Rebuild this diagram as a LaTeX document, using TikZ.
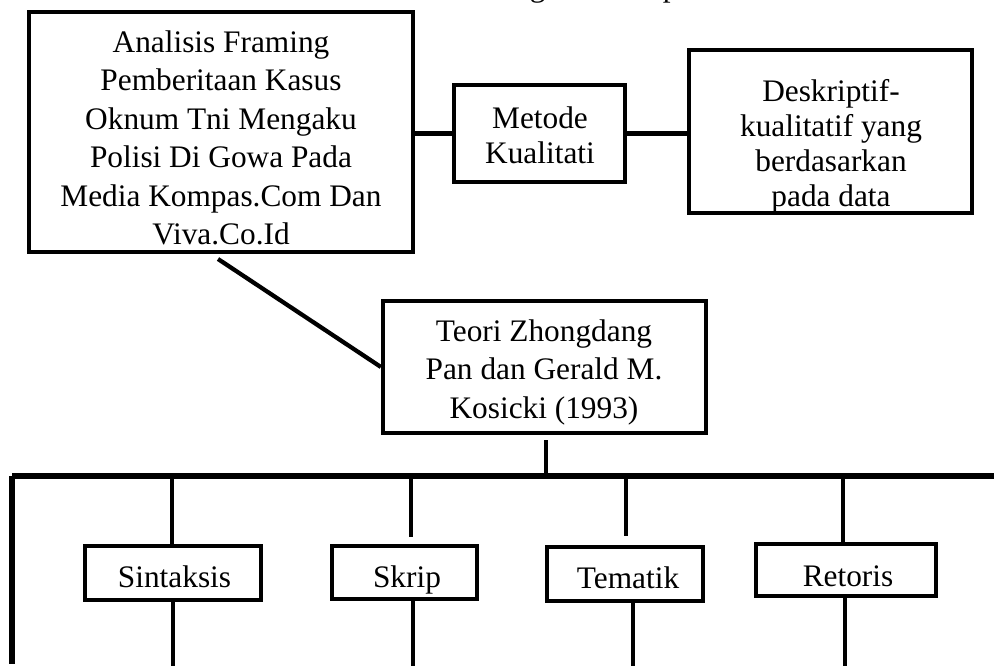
\documentclass[tikz,border=0pt]{standalone}
\usepackage{fontspec}
\setmainfont{Liberation Serif}
\begin{document}
\begin{tikzpicture}[x=0.75pt,y=-0.75pt,
  box/.style={draw, line width=3.4pt, inner sep=0pt},
  txt/.style={inner sep=0pt, align=center, font=\fontsize{23.5}{28.9}\selectfont},
  txtb/.style={inner sep=0pt, align=center, font=\fontsize{23.5}{26.3}\selectfont},
  wire/.style={line width=3.2pt},
  bus/.style={line width=3.8pt}]
\useasboundingbox (0,0) rectangle (994,666);
\begin{scope}
\clip (0,0) rectangle (994,666);
\node[txt, anchor=base west] (cap) at (453,-3) {Kerangka Konseptual};
\end{scope}
% boxes
\node[box, minimum width=288pt, minimum height=180pt] (a1) at (221,132) {};
\node[txt] (a1t) at (221,138) {Analisis Framing\\Pemberitaan Kasus\\Oknum Tni Mengaku\\Polisi Di Gowa Pada\\Media Kompas.Com Dan\\Viva.Co.Id};
\node[box, minimum width=128pt, minimum height=73pt] (m) at (539.5,133.5) {};
\node[txtb] (mt) at (540,135) {Metode\\Kualitati};
\node[box, minimum width=212pt, minimum height=122pt] (d) at (830.5,131.5) {};
\node[txtb] (dt) at (831,146) {Deskriptif-\\kualitatif yang\\berdasarkan\\pada data};
\node[box, minimum width=242pt, minimum height=99pt] (t) at (544.5,367) {};
\node[txt] (tt) at (544,372) {Teori Zhongdang\\Pan dan Gerald M.\\Kosicki (1993)};
\node[box, minimum width=132pt, minimum height=40.5pt] (s1) at (173,573) {};
\node[txt, anchor=base] (s1t) at (174.5,587) {Sintaksis};
\node[box, minimum width=109pt, minimum height=40pt] (s2) at (404.5,572.5) {};
\node[txt, anchor=base] (s2t) at (407,587) {Skrip};
\node[box, minimum width=117pt, minimum height=40.5pt] (s3) at (625,574) {};
\node[txt, anchor=base] (s3t) at (628,588) {Tematik};
\node[box, minimum width=135pt, minimum height=39pt] (s4) at (846,570) {};
\node[txt, anchor=base] (s4t) at (848,586) {Retoris};
% connectors top
\draw[wire] (m.west) -- (m.west -| a1.east);
\draw[wire] (m.east) -- (m.east -| d.west);
\coordinate (dg) at (218,259);
\draw[wire] (dg) -- (t.west);
\coordinate (tb) at (546,440);
\coordinate (bl) at (12,476);
\coordinate (br) at (994,476);
\draw[wire] (tb) -- (tb |- bl);
% bus
\draw[bus] (bl) -- (br);
\coordinate (lb) at (12,664);
\draw[bus] (bl) -- (lb);
% drops
\coordinate (u1) at (172,0);
\coordinate (u2) at (411,537);
\coordinate (u3) at (626,536);
\coordinate (u4) at (843,0);
\draw[wire] (u1 |- bl) -- (u1 |- s1.north);
\draw[wire] (u2 |- bl) -- (u2);
\draw[wire] (u3 |- bl) -- (u3);
\draw[wire] (u4 |- bl) -- (u4 |- s4.north);
\coordinate (d1) at (173,666);
\coordinate (d2) at (413,666);
\coordinate (d3) at (633,666);
\coordinate (d4) at (845,666);
\draw[wire] (d1 |- s1.south) -- (d1);
\draw[wire] (d2 |- s2.south) -- (d2);
\draw[wire] (d3 |- s3.south) -- (d3);
\draw[wire] (d4 |- s4.south) -- (d4);
\end{tikzpicture}
\end{document}
